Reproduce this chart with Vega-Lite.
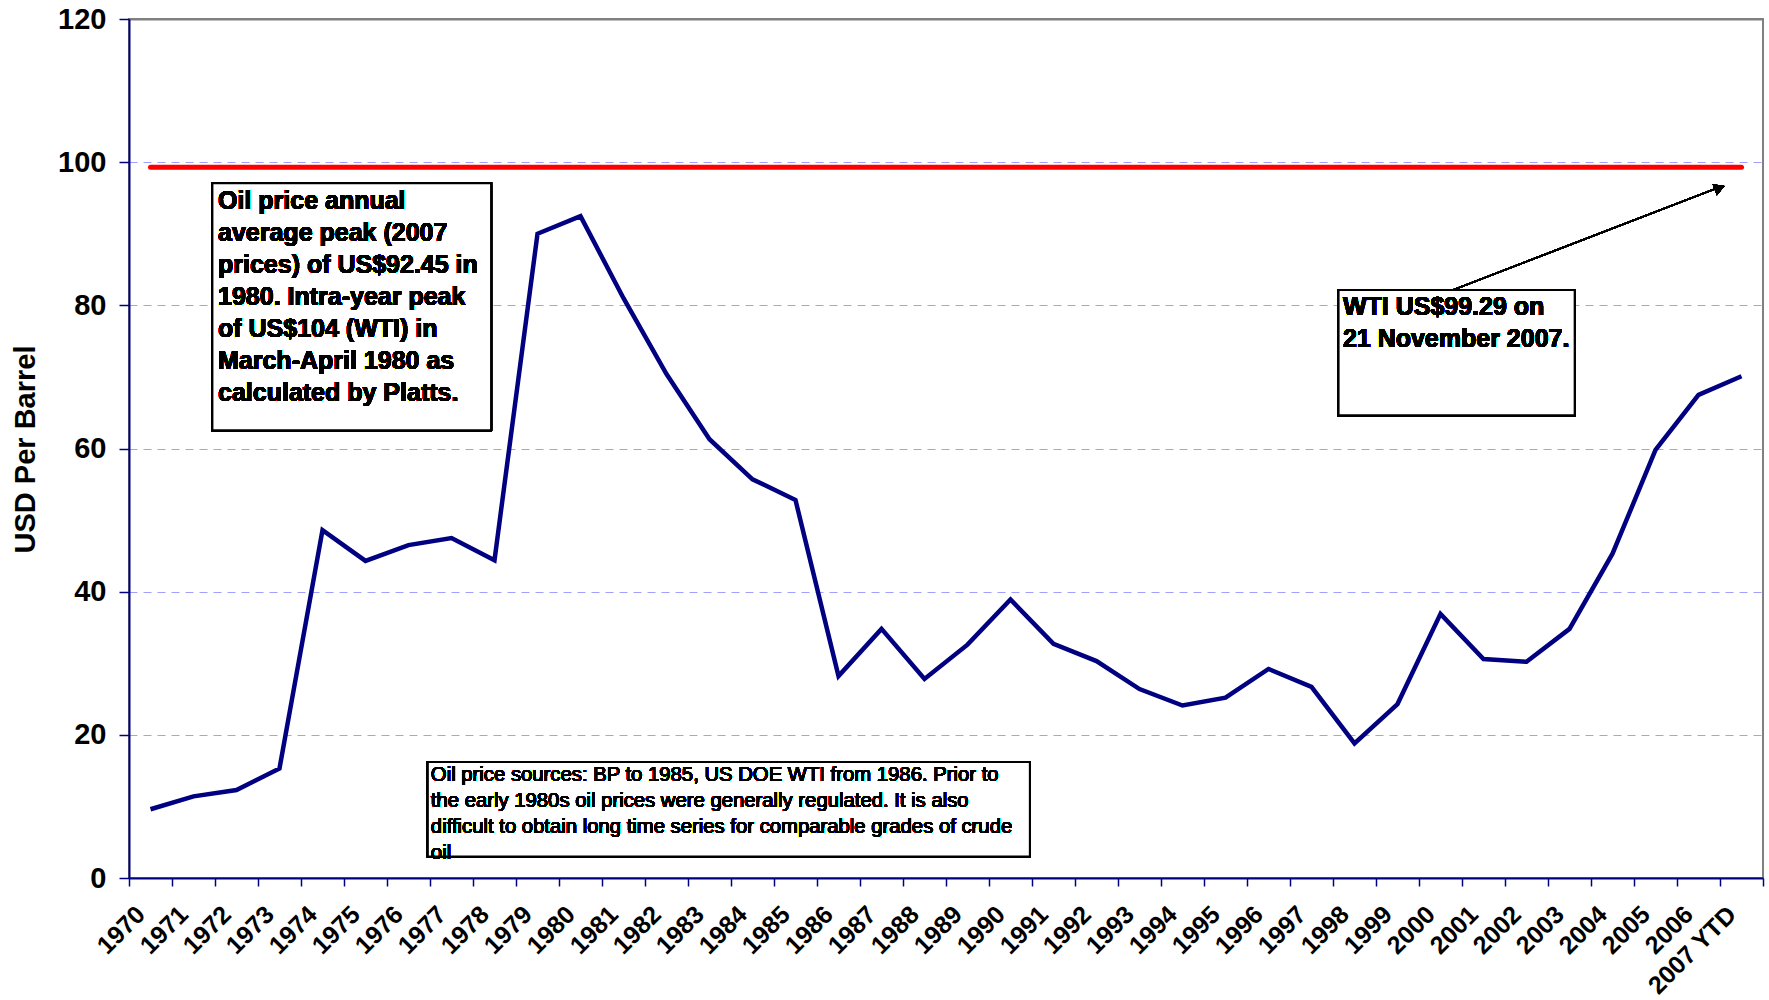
{
  "$schema": "https://vega.github.io/schema/vega-lite/v6.json",
  "width": 1634,
  "height": 859,
  "autosize": {"type": "none"},
  "padding": {"left": 129, "top": 19, "right": 6, "bottom": 122},
  "background": "white",
  "config": {
    "font": "Liberation Sans",
    "view": {"stroke": "#808080", "strokeWidth": 2}
  },
  "data": {
    "values": [
      {"year": "1970", "price": 9.6, "wti": 99.29},
      {"year": "1971", "price": 11.4, "wti": 99.29},
      {"year": "1972", "price": 12.3, "wti": 99.29},
      {"year": "1973", "price": 15.3, "wti": 99.29},
      {"year": "1974", "price": 48.6, "wti": 99.29},
      {"year": "1975", "price": 44.3, "wti": 99.29},
      {"year": "1976", "price": 46.5, "wti": 99.29},
      {"year": "1977", "price": 47.5, "wti": 99.29},
      {"year": "1978", "price": 44.4, "wti": 99.29},
      {"year": "1979", "price": 90.0, "wti": 99.29},
      {"year": "1980", "price": 92.45, "wti": 99.29},
      {"year": "1981", "price": 81.0, "wti": 99.29},
      {"year": "1982", "price": 70.4, "wti": 99.29},
      {"year": "1983", "price": 61.3, "wti": 99.29},
      {"year": "1984", "price": 55.7, "wti": 99.29},
      {"year": "1985", "price": 52.8, "wti": 99.29},
      {"year": "1986", "price": 28.2, "wti": 99.29},
      {"year": "1987", "price": 34.8, "wti": 99.29},
      {"year": "1988", "price": 27.8, "wti": 99.29},
      {"year": "1989", "price": 32.6, "wti": 99.29},
      {"year": "1990", "price": 38.9, "wti": 99.29},
      {"year": "1991", "price": 32.7, "wti": 99.29},
      {"year": "1992", "price": 30.3, "wti": 99.29},
      {"year": "1993", "price": 26.4, "wti": 99.29},
      {"year": "1994", "price": 24.1, "wti": 99.29},
      {"year": "1995", "price": 25.2, "wti": 99.29},
      {"year": "1996", "price": 29.2, "wti": 99.29},
      {"year": "1997", "price": 26.7, "wti": 99.29},
      {"year": "1998", "price": 18.8, "wti": 99.29},
      {"year": "1999", "price": 24.3, "wti": 99.29},
      {"year": "2000", "price": 36.9, "wti": 99.29},
      {"year": "2001", "price": 30.6, "wti": 99.29},
      {"year": "2002", "price": 30.2, "wti": 99.29},
      {"year": "2003", "price": 34.8, "wti": 99.29},
      {"year": "2004", "price": 45.3, "wti": 99.29},
      {"year": "2005", "price": 59.8, "wti": 99.29},
      {"year": "2006", "price": 67.5, "wti": 99.29},
      {"year": "2007 YTD", "price": 70.1, "wti": 99.29}
    ]
  },
  "resolve": {"scale": {"x": "independent"}, "axis": {"x": "independent"}},
  "layer": [
    {
      "encoding": {
        "x": {
          "field": "year", "type": "nominal", "sort": null,
          "scale": {"type": "band", "paddingInner": 0, "paddingOuter": 0},
          "axis": {
            "title": null, "tickBand": "extent", "grid": false,
            "domainColor": "#000080", "domainWidth": 2,
            "tickColor": "#000080", "tickWidth": 1.5, "tickSize": 8,
            "labelAngle": -45, "labelAlign": "right", "labelBaseline": "middle",
            "labelOffset": -10, "labelPadding": 24,
            "labelFont": "Liberation Sans", "labelFontSize": 25, "labelFontWeight": "bold",
            "labelColor": "#000000", "labelOverlap": false, "labelBound": false, "labelFlush": false
          }
        },
        "y": {
          "type": "quantitative",
          "scale": {"domain": [0, 120], "nice": false, "zero": true},
          "axis": {
            "title": "USD Per Barrel", "values": [0, 20, 40, 60, 80, 100, 120],
            "grid": true,
            "gridColor": {"condition": {"test": "datum.value === 120", "value": "#808080"}, "value": "#a0a0ff"},
            "gridDash": {"condition": {"test": "datum.value === 120", "value": []}, "value": [8, 6]},
            "gridWidth": {"condition": {"test": "datum.value === 120", "value": 2}, "value": 1.2},
            "domainColor": "#000080", "domainWidth": 2,
            "tickColor": "#000080", "tickWidth": 1.5, "tickSize": 10,
            "labelPadding": 13, "labelFont": "Liberation Sans", "labelFontSize": 29,
            "labelFontWeight": "bold", "labelColor": "#000000",
            "titleFont": "Liberation Sans", "titleFontSize": 29, "titleFontWeight": "bold",
            "titleColor": "#000000", "titleX": -104, "titleY": 430, "titleAngle": -90,
            "titleBaseline": "middle", "titleAlign": "center"
          }
        }
      },
      "layer": [
        {
          "mark": {"type": "line", "color": "#ff0000", "strokeWidth": 5, "strokeCap": "round"},
          "encoding": {"y": {"field": "wti", "type": "quantitative"}}
        },
        {
          "mark": {"type": "line", "color": "#000080", "strokeWidth": 4.5},
          "encoding": {"y": {"field": "price", "type": "quantitative"}}
        }
      ]
    },
    {
      "layer": [
        {
          "mark": {"type": "rect", "fill": "white", "stroke": "#000000", "strokeWidth": 2},
          "encoding": {
            "x": {"datum": 1.94, "type": "quantitative", "scale": {"domain": [0, 38], "nice": false, "zero": false}, "axis": null},
            "x2": {"datum": 8.42},
            "y": {"datum": 97.05, "type": "quantitative"},
            "y2": {"datum": 62.56}
          }
        },
        {
          "mark": {
            "type": "text", "align": "left", "baseline": "alphabetic", "lineHeight": 32,
            "font": "Liberation Sans", "fontSize": 25, "fontWeight": "bold", "color": "#000000",
            "text": ["Oil price annual", "average peak (2007", "prices) of US$92.45 in", "1980. Intra-year peak", "of US$104 (WTI) in", "March-April 1980 as", "calculated by Platts."]
          },
          "encoding": {
            "x": {"datum": 2.07, "type": "quantitative", "scale": {"domain": [0, 38], "nice": false, "zero": false}, "axis": null},
            "y": {"datum": 93.5, "type": "quantitative"}
          }
        },
        {
          "mark": {"type": "rect", "fill": "white", "stroke": "#000000", "strokeWidth": 2},
          "encoding": {
            "x": {"datum": 28.13, "type": "quantitative", "scale": {"domain": [0, 38], "nice": false, "zero": false}, "axis": null},
            "x2": {"datum": 33.62},
            "y": {"datum": 82.14, "type": "quantitative"},
            "y2": {"datum": 64.64}
          }
        },
        {
          "mark": {
            "type": "text", "align": "left", "baseline": "alphabetic", "lineHeight": 32,
            "font": "Liberation Sans", "fontSize": 25, "fontWeight": "bold", "color": "#000000",
            "text": ["WTI US$99.29 on", "21 November 2007."]
          },
          "encoding": {
            "x": {"datum": 28.23, "type": "quantitative", "scale": {"domain": [0, 38], "nice": false, "zero": false}, "axis": null},
            "y": {"datum": 78.6, "type": "quantitative"}
          }
        },
        {
          "mark": {"type": "rule", "color": "#000000", "strokeWidth": 1.5},
          "encoding": {
            "x": {"datum": 30.81, "type": "quantitative", "scale": {"domain": [0, 38], "nice": false, "zero": false}, "axis": null},
            "x2": {"datum": 36.9},
            "y": {"datum": 82.2, "type": "quantitative"},
            "y2": {"datum": 96.3}
          }
        },
        {
          "mark": {"type": "point", "shape": "triangle-right", "filled": true, "color": "#000000", "size": 140, "angle": 339, "opacity": 1},
          "encoding": {
            "x": {"datum": 36.99, "type": "quantitative", "scale": {"domain": [0, 38], "nice": false, "zero": false}, "axis": null},
            "y": {"datum": 96.4, "type": "quantitative"}
          }
        },
        {
          "mark": {"type": "rect", "fill": "white", "stroke": "#000000", "strokeWidth": 2},
          "encoding": {
            "x": {"datum": 6.95, "type": "quantitative", "scale": {"domain": [0, 38], "nice": false, "zero": false}, "axis": null},
            "x2": {"datum": 20.95},
            "y": {"datum": 16.19, "type": "quantitative"},
            "y2": {"datum": 3.02}
          }
        },
        {
          "mark": {
            "type": "text", "align": "left", "baseline": "alphabetic", "lineHeight": 26,
            "font": "Liberation Sans", "fontSize": 20.3, "fontWeight": "normal", "color": "#000000",
            "text": ["Oil price sources: BP to 1985, US DOE WTI from 1986. Prior to", "the early 1980s oil prices were generally regulated. It is also", "difficult to obtain long time series for comparable grades of crude", "oil"]
          },
          "encoding": {
            "x": {"datum": 7.02, "type": "quantitative", "scale": {"domain": [0, 38], "nice": false, "zero": false}, "axis": null},
            "y": {"datum": 13.5, "type": "quantitative"}
          }
        }
      ]
    }
  ]
}
